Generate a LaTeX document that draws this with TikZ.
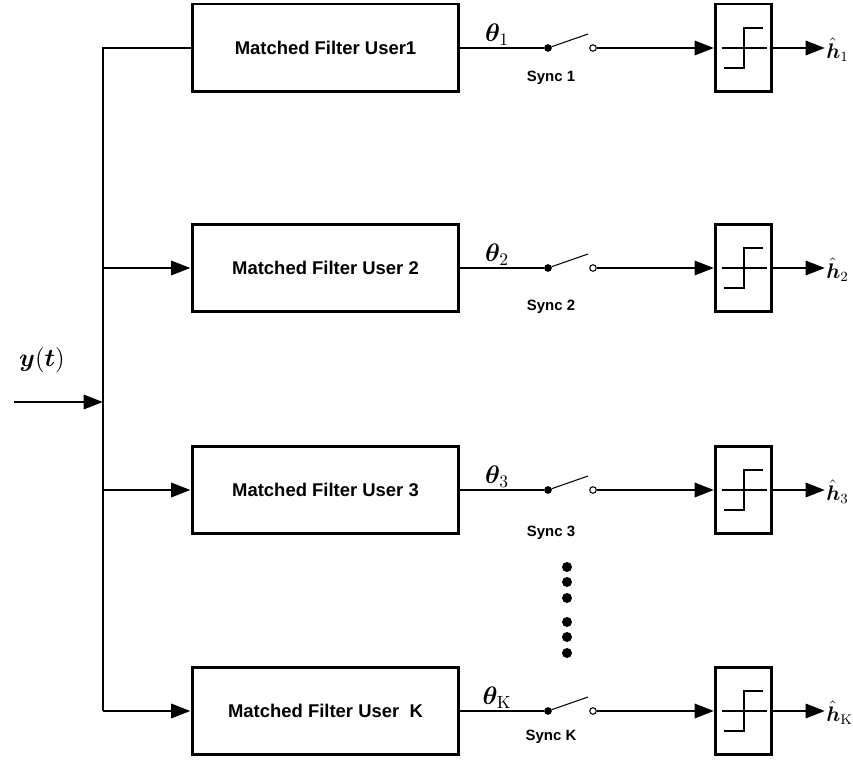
\documentclass[tikz,border=0pt]{standalone}
\usepackage{amsmath,amssymb,bm}
\usepackage[no-math]{fontspec}
\setmainfont{Liberation Sans}
\usepackage{tikz}
\usetikzlibrary{arrows.meta, calc, positioning}

\tikzset{
    wire/.style={line width=1.7pt},
    feed/.style={line width=1.7pt, -{Triangle[length=11pt, width=8pt]}},
    filterbox/.style={draw, line width=1.7pt, minimum width=5.34cm, minimum height=1.76cm,
        font=\fontsize{10.5}{12}\selectfont\bfseries},
    slicer/.style={draw, line width=1.7pt, minimum width=1.12cm, minimum height=1.76cm},
    contact/.style={circle, draw, line width=0.6pt, inner sep=0pt, minimum size=0.13cm},
    synclabel/.style={font=\fontsize{8.5}{10}\selectfont\bfseries},
}

\begin{document}
\begin{tikzpicture}[x=0.02cm, y=-0.02cm]
    \useasboundingbox (0,0) rectangle (853,760);

    % input and bus
    \coordinate (in) at (14,402);
    \coordinate (tap) at (103,402);
    \coordinate (bustop) at (103,48);
    \coordinate (busbot) at (103,711);
    \draw[feed] (in) -- (tap);
    \node (ylab) at (42,360) {\Large$\bm{y}(\bm{t})$};

    % one branch per user
    \foreach \i/\y/\s/\txt/\sub in {1/48/78/User1/1, 2/268/307/User 2/2, 3/490/533/User 3/3, K/711/737/User\ \ K/K} {
        \node[filterbox] (mf\i) at (325.5,\y) {Matched Filter \txt};
        \node[contact, fill=black] (c\i) at (548,\y) {};
        \node[contact, fill=white] (o\i) at (593,\y) {};
        \coordinate (blade\i) at (588,\y-14);
        \node[slicer] (thr\i) at (743.5,\y) {};
        \coordinate (out\i) at (825,\y);

        \draw[wire] (mf\i.east) -- (c\i.west);
        \draw[line width=0.6pt] (c\i) -- (blade\i);
        \draw[feed] (o\i.east) -- (thr\i.west);
        \draw[feed] (thr\i.east) -- (out\i);

        % hard limiter symbol
        \draw[line width=0.6pt] ($(thr\i.center)+(-22,0)$) -- ($(thr\i.center)+(23,0)$);
        \draw[line width=0.6pt] ($(thr\i.center)+(-19.5,20)$) -- ($(thr\i.center)+(0.5,20)$)
            -- ($(thr\i.center)+(0.5,-20)$) -- ($(thr\i.center)+(19.5,-20)$);

        \node (th\i) at (497,\y-13) {\Large$\bm{\theta}_{\mathrm{\sub}}$};
        \node[synclabel] (sync\i) at (551,\s) {Sync \sub};
        \node[anchor=west, inner sep=0pt] (h\i) at ([xshift=0.02cm, yshift=-0.04cm]out\i) {\large$\hat{\bm{h}}_{\mathrm{\sub}}$};
    }

    % bus feeding the filters
    \draw[wire] (mf1.west) -- (bustop) -- (busbot);
    \foreach \i in {2,3,K} {
        \draw[feed] (bustop |- mf\i.west) -- (mf\i.west);
    }

    % continuation dots
    \foreach \d/\y in {a/567, b/582, c/598, d/622, e/637, f/653} {
        \fill (567,\y) circle (5);
    }
\end{tikzpicture}
\end{document}
